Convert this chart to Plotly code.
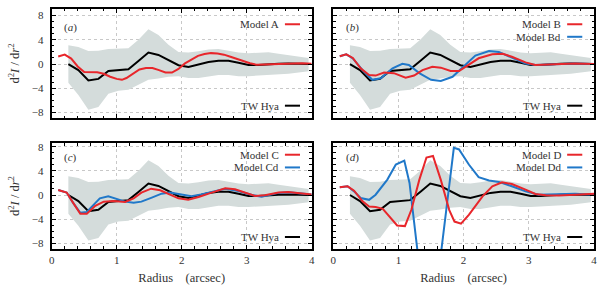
import plotly.graph_objects as go

# ---------------- data ----------------
r_tw = [0.256, 0.41, 0.564, 0.718, 0.872, 1.026, 1.18, 1.334, 1.488, 1.642, 1.796, 1.95,
        2.104, 2.258, 2.412, 2.566, 2.72, 2.874, 3.028, 3.182, 3.336, 3.49, 3.644, 3.798, 3.952]
tw_hya = [0.0, -1.0, -2.7, -2.45, -1.15, -1.0, -0.85, 0.5, 1.9, 1.5, 0.6, -0.2,
          -0.5, -0.1, 0.35, 0.55, 0.55, 0.2, -0.15, -0.15, 0.0, 0.05, 0.1, 0.05, 0.0]
band_hi = [3.1, 2.8, 2.15, 2.2, 2.5, 2.55, 2.6, 4.0, 5.75, 4.8, 3.2, 2.0,
           1.9, 2.1, 2.4, 2.5, 2.2, 1.9, 1.8, 1.9, 1.95, 1.7, 1.45, 1.2, 1.0]
band_lo = [-3.1, -5.1, -7.55, -7.1, -4.9, -4.4, -4.25, -3.4, -2.6, -2.4, -2.1, -2.0,
           -2.3, -2.3, -2.0, -1.8, -1.8, -2.0, -2.0, -1.9, -1.8, -1.75, -1.6, -1.4, -1.2]

r_a = [0.1, 0.2, 0.3, 0.4, 0.5, 0.6, 0.7, 0.8, 0.9, 1.0, 1.08, 1.15, 1.25, 1.35, 1.45, 1.55,
       1.65, 1.75, 1.85, 1.95, 2.05, 2.15, 2.25, 2.35, 2.45, 2.55, 2.65, 2.75, 2.85, 2.95,
       3.05, 3.15, 3.3, 3.5, 3.7, 3.85, 4.0]
model_a = [1.25, 1.55, 0.9, -0.4, -1.3, -1.35, -1.35, -1.6, -2.1, -2.45, -2.6, -2.3, -1.6, -0.9,
           -0.65, -0.65, -1.0, -1.4, -1.4, -0.8, 0.1, 0.75, 1.35, 1.65, 1.8, 1.75, 1.55, 1.2,
           0.85, 0.45, 0.12, -0.1, -0.05, 0.05, 0.15, 0.12, 0.05]

r_b = [0.1, 0.2, 0.3, 0.42, 0.55, 0.65, 0.78, 0.93, 1.11, 1.24, 1.37, 1.52, 1.65, 1.8, 1.93,
       2.08, 2.23, 2.44, 2.6, 2.74, 2.95, 3.1, 3.3, 3.46, 3.71, 4.0]
model_b = [1.3, 1.6, 1.0, -0.7, -1.8, -1.9, -1.4, -1.5, -2.25, -1.9, -1.0, -0.45, -0.6, -1.15,
           -1.15, -0.15, 0.95, 1.6, 1.7, 1.2, 0.27, -0.15, -0.05, 0.0, 0.1, 0.0]
r_bd = [0.1, 0.2, 0.3, 0.45, 0.6, 0.73, 0.91, 1.06, 1.16, 1.32, 1.5, 1.65, 1.83, 2.03, 2.18,
        2.39, 2.54, 2.74, 2.95, 3.1, 3.46, 3.71, 4.0]
model_bd = [1.3, 1.6, 0.93, -1.0, -2.6, -2.35, -0.7, 0.05, -0.15, -1.5, -2.6, -2.8, -2.1, -0.15,
            1.4, 2.15, 2.0, 1.05, 0.1, -0.15, 0.0, 0.1, 0.0]

r_c = [0.1, 0.23, 0.33, 0.44, 0.54, 0.67, 0.8, 0.95, 1.13, 1.26, 1.38, 1.53, 1.67, 1.82, 1.95,
       2.1, 2.26, 2.46, 2.67, 2.82, 2.97, 3.13, 3.28, 3.49, 3.64, 3.85, 4.0]
model_c = [0.83, 0.4, -1.3, -3.1, -3.1, -1.8, -1.1, -1.0, -1.15, -0.55, 0.4, 1.05, 0.78, 0.0,
           -0.55, -0.78, -0.33, 0.4, 1.1, 0.95, 0.4, -0.17, -0.05, 0.4, 0.5, 0.28, 0.1]
r_cd = [0.1, 0.23, 0.33, 0.44, 0.54, 0.67, 0.74, 0.87, 1.0, 1.13, 1.26, 1.38, 1.54, 1.69, 1.82,
        2.0, 2.15, 2.3, 2.51, 2.67, 2.87, 3.08, 3.23, 3.49, 3.64, 3.85, 4.0]
model_cd = [0.83, 0.4, -1.3, -2.95, -2.8, -1.3, -0.55, -0.22, -0.6, -1.1, -1.3, -1.1, -0.44, 0.22,
            0.4, 0.1, -0.22, 0.1, 0.67, 1.05, 0.67, 0.0, -0.28, 0.35, 0.45, 0.25, 0.1]

r_d = [0.1, 0.22, 0.32, 0.45, 0.55, 0.65, 0.76, 0.88, 0.98, 1.1, 1.2, 1.32, 1.43, 1.53, 1.65,
       1.78, 1.86, 1.96, 2.08, 2.29, 2.44, 2.59, 2.74, 2.95, 3.1, 3.26, 3.46, 3.71, 4.0]
model_d = [1.28, 1.44, 0.72, -1.05, -1.9, -2.0, -2.3, -3.8, -5.05, -5.15, -2.4, 2.5, 6.2, 6.45,
           2.5, -2.5, -4.4, -4.75, -3.3, -0.22, 1.44, 2.1, 1.83, 0.9, 0.17, -0.05, -0.1, 0.05, 0.22]
r_dd = [0.1, 0.22, 0.32, 0.42, 0.55, 0.65, 0.83, 0.96, 1.09, 1.17, 1.3, 1.42, 1.53, 1.66, 1.85,
        1.93, 2.08, 2.23, 2.39, 2.54, 2.74, 2.95, 3.15, 3.46, 3.71, 4.0]
model_dd = [1.28, 1.44, 0.6, -0.5, -0.8, 0.05, 2.55, 5.05, 5.7, 2.0, -10.0, -22.0, -22.0, -9.0,
            7.8, 7.55, 5.05, 2.95, 2.4, 2.17, 1.44, 0.6, 0.05, 0.17, 0.22, 0.05]

panel_labels = ["a", "b", "c", "d"]
legend_names = [["Model A"], ["Model B", "Model Bd"], ["Model C", "Model Cd"], ["Model D", "Model Dd"]]

# ---------------- styling ----------------
RED = "#e8262b"
BLUE = "#2078c9"
BAND = "#d4dcdb"
FONT = "Liberation Serif"
TXT = "#333333"

x_domains = [[0.0852, 0.5135], [0.549, 0.9786]]
y_domains = [[0.6, 0.9695], [0.156, 0.515]]
y_ranges = [[-8.9, 9.08], [-8.94, 8.6]]

fig = go.Figure()

panels = [
    [(r_a, model_a, RED)],
    [(r_bd, model_bd, BLUE), (r_b, model_b, RED)],
    [(r_cd, model_cd, BLUE), (r_c, model_c, RED)],
    [(r_dd, model_dd, BLUE), (r_d, model_d, RED)],
]

for i in range(4):
    row, col = divmod(i, 2)
    ax = "" if i == 0 else str(i + 1)
    xa, ya = "x" + ax, "y" + ax
    # band
    fig.add_trace(go.Scatter(x=r_tw, y=band_lo, xaxis=xa, yaxis=ya, mode="lines",
                             line=dict(width=0, color=BAND), hoverinfo="skip", showlegend=False))
    fig.add_trace(go.Scatter(x=r_tw, y=band_hi, xaxis=xa, yaxis=ya, mode="lines", fill="tonexty",
                             fillcolor=BAND, line=dict(width=0, color=BAND), hoverinfo="skip",
                             showlegend=False))
    fig.add_trace(go.Scatter(x=r_tw, y=tw_hya, xaxis=xa, yaxis=ya, mode="lines",
                             line=dict(color="black", width=2), showlegend=False))
    for (xs, ys, c) in panels[i]:
        fig.add_trace(go.Scatter(x=xs, y=ys, xaxis=xa, yaxis=ya, mode="lines",
                                 line=dict(color=c, width=2), showlegend=False))

    common = dict(showline=True, linewidth=2, linecolor="black", mirror="ticks",
                  ticks="inside", ticklen=4, tickwidth=1, tickcolor="black",
                  showgrid=True, gridcolor="#c8c8c8", griddash="dot", gridwidth=1,
                  zeroline=False, automargin=False,
                  tickfont=dict(family=FONT, size=11, color=TXT))
    xaxis = dict(common, domain=x_domains[col], range=[0, 4], anchor=ya,
                 tickvals=[0, 1, 2, 3, 4], showticklabels=(row == 1),
                 minor=dict(dtick=0.2, ticks="inside", ticklen=2.5, tickcolor="black", showgrid=False))
    if row == 1:
        xaxis["title"] = dict(text="Radius &nbsp;&nbsp;&nbsp;(arcsec)",
                              font=dict(family=FONT, size=12.5, color=TXT), standoff=8)
    yaxis = dict(common, domain=y_domains[row], range=y_ranges[row], anchor=xa,
                 tickvals=[-8, -4, 0, 4, 8], showticklabels=(col == 0), ticklabelstandoff=4,
                 minor=dict(dtick=1, ticks="inside", ticklen=2.5, tickcolor="black", showgrid=False))
    if col == 0:
        yaxis["title"] = dict(text="d<sup>2</sup><i>I</i> / d<i>r</i><sup>2</sup>",
                              font=dict(family=FONT, size=12.5, color=TXT), standoff=9)
    fig.layout["xaxis" + ax] = xaxis
    fig.layout["yaxis" + ax] = yaxis

    # panel label
    fig.add_annotation(text="(<i>%s</i>)" % panel_labels[i], xref=xa + " domain", yref=ya + " domain",
                       x=0.074, y=0.83 if row == 0 else 0.86, xanchor="center", yanchor="middle",
                       showarrow=False, font=dict(family=FONT, size=11, color=TXT))
    # legend entries (text + line sample)
    colors = [RED, BLUE]
    ys_leg = [0.86, 0.745] if row == 0 else [0.89, 0.77]
    for k, name in enumerate(legend_names[i]):
        fig.add_annotation(text=name, xref=xa + " domain", yref=ya + " domain",
                           x=0.882, y=ys_leg[k], xanchor="right", yanchor="middle", showarrow=False,
                           font=dict(family=FONT, size=11, color=TXT))
        fig.add_shape(type="line", xref=xa + " domain", yref=ya + " domain",
                      x0=0.897, x1=0.955, y0=ys_leg[k], y1=ys_leg[k],
                      line=dict(color=colors[k], width=2))
    fig.add_annotation(text="TW Hya", xref=xa + " domain", yref=ya + " domain",
                       x=0.882, y=0.113, xanchor="right", yanchor="middle", showarrow=False,
                       font=dict(family=FONT, size=11, color=TXT))
    fig.add_shape(type="line", xref=xa + " domain", yref=ya + " domain",
                  x0=0.897, x1=0.955, y0=0.113, y1=0.113, line=dict(color="black", width=2))

fig.update_layout(width=607, height=295, margin=dict(l=0, r=0, t=0, b=0),
                  plot_bgcolor="white", paper_bgcolor="white", showlegend=False)

fig.write_html("out.html", config={"displayModeBar": False},
               post_script="document.body.style.margin='0px';document.body.style.overflow='hidden';")
